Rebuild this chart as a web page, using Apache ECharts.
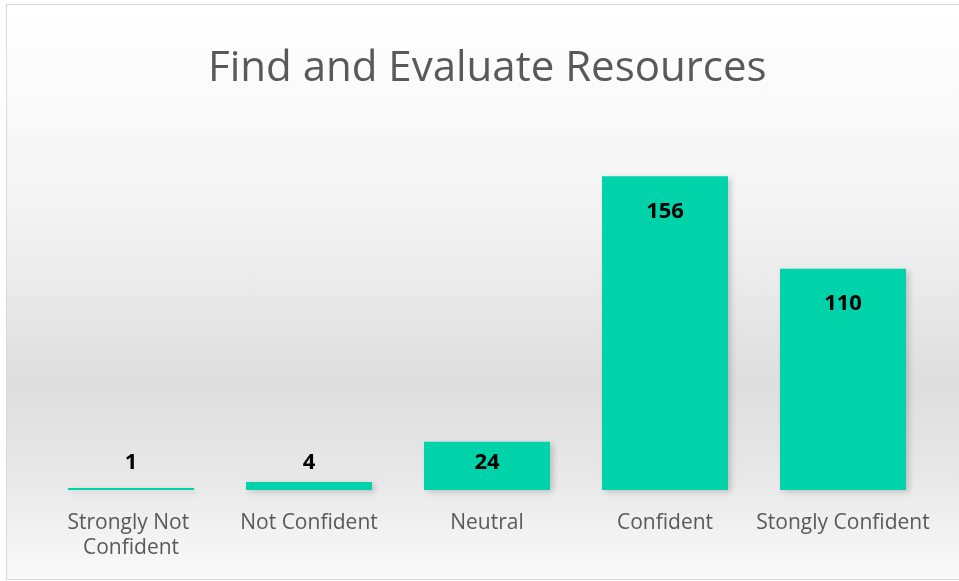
<!DOCTYPE html>
<html>
<head>
<meta charset="utf-8">
<script src="https://cdn.jsdelivr.net/npm/echarts@6/dist/echarts.min.js"></script>
<style>
  html, body { margin: 0; padding: 0; background: #fff; }
  .frame {
    position: absolute; left: 6px; top: 4px; width: 955px; height: 574px;
    border: 1px solid #d9d9d9;
    background: linear-gradient(180deg, #ffffff 0%, #f4f4f4 35%, #dedede 66%, #e8e8e8 82%, #fafafa 100%);
  }
  #chart { position: absolute; left: 0; top: 0; width: 959px; height: 581px; }
</style>
</head>
<body>
<div class="frame"></div>
<div id="chart"></div>
<script>
// answers per confidence level
var categories = ['Strongly Not Confident', 'Not Confident', 'Neutral', 'Confident', 'Stongly Confident'];
var counts = [1, 4, 24, 156, 110];

var myChart = echarts.init(document.getElementById('chart'));

// short bars: label sits at a fixed height near the base, tall ones inside at the top
function labelFor(v) {
    if (v < 40) return { position: 'insideBottom', distance: 16 };
    return { position: 'insideTop', distance: 24 };
}

var option = {
    backgroundColor: 'transparent',
    title: {
        text: 'Find and Evaluate Resources',
        left: 203,
        top: 43,
        textStyle: {
            fontFamily: 'Open Sans',
            fontWeight: 'normal',
            fontSize: 42,
            color: '#595959'
        }
    },
    grid: {
        left: 42,
        right: 27,
        top: 128,
        bottom: 91
    },
    xAxis: {
        type: 'category',
        data: categories,
        axisLine: { show: false },
        axisTick: { show: false },
        axisLabel: {
            interval: 0,
            margin: 21,
            fontFamily: 'Open Sans',
            fontSize: 21,
            lineHeight: 25,
            color: '#595959',
            width: 178,
            overflow: 'break'
        }
    },
    yAxis: {
        type: 'value',
        min: 0,
        max: 180,
        show: false
    },
    series: [{
        type: 'bar',
        barWidth: 126,
        data: counts.map(function (v) {
            return { value: v, label: labelFor(v) };
        }),
        itemStyle: {
            color: '#00d2a9',
            shadowColor: 'rgba(0,0,0,0.18)',
            shadowBlur: 6,
            shadowOffsetX: 3,
            shadowOffsetY: 2
        },
        label: {
            show: true,
            fontFamily: 'Open Sans',
            fontWeight: 'bold',
            fontSize: 22,
            color: '#000'
        }
    }]
};

myChart.setOption(option);
window.addEventListener('resize', function () { myChart.resize(); });
</script>
</body>
</html>
